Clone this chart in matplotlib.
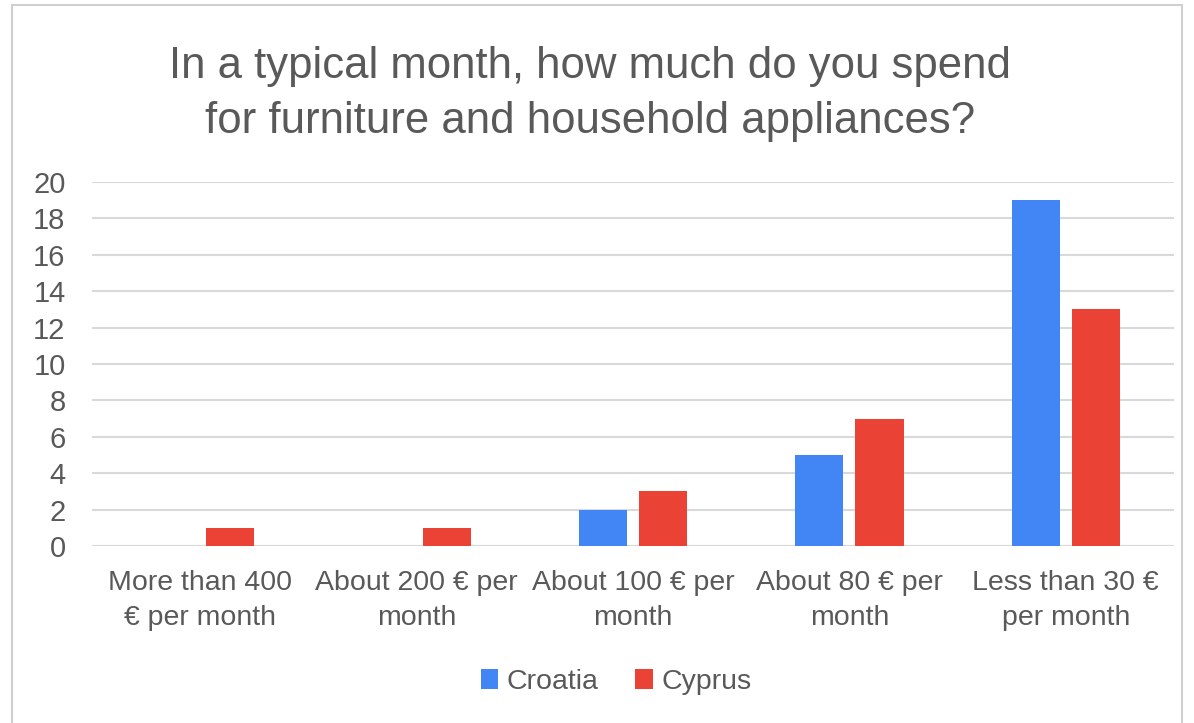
import numpy as np
import matplotlib.pyplot as plt
from matplotlib.patches import Rectangle

# Dados
categorias = ['More than 400\n€ per month', 'About 200 € per\nmonth', 'About 100 € per\nmonth',
              'About 80 € per\nmonth', 'Less than 30 €\nper month']
croatia = [0, 0, 2, 5, 19]
cyprus = [1, 1, 3, 7, 13]
series = ['Croatia', 'Cyprus']
cores = ['#4285F4', '#EA4335']
cinza = '#595959'

plt.rcParams['font.family'] = ['Liberation Sans', 'DejaVu Sans']

fig = plt.figure(figsize=(11.94, 7.23), dpi=100)
ax = fig.add_axes([92/1194, 1 - 546/723, (1174-92)/1194, (546-182)/723])

x = np.arange(len(categorias))
w = 0.222
off = 0.139
ax.bar(x - off, croatia, w, color=cores[0], label=series[0], zorder=3)
ax.bar(x + off, cyprus, w, color=cores[1], label=series[1], zorder=3)

ax.set_xlim(-0.5, len(categorias) - 0.5)
ax.set_ylim(0, 20)
ax.set_yticks(range(0, 21, 2))
ax.yaxis.grid(True, color='#D9D9D9', lw=1.5, zorder=0)
ax.set_xticks(x)
ax.set_xticklabels(categorias, fontsize=20.5, color=cinza, linespacing=1.45)
ax.tick_params(axis='y', labelsize=21, labelcolor=cinza, length=0, pad=19)
ax.tick_params(axis='x', length=0, pad=17)
for s in ax.spines.values():
    s.set_visible(False)
ax.axhline(0, color='#D9D9D9', lw=1.5, zorder=1)

fig.text(0.494, 1 - 94/723, 'In a typical month, how much do you spend\nfor furniture and household appliances?',
         ha='center', va='center', fontsize=31.5, color=cinza, linespacing=1.42)

fig.legend(loc='center', bbox_to_anchor=(0.516, 1 - 682/723), ncol=2, frameon=False,
           fontsize=20.5, labelcolor=cinza, handlelength=0.6, handleheight=0.7,
           handletextpad=0.3, columnspacing=1.3)

# moldura
fig.patches.append(Rectangle((12/1194, -0.01), (1182-12)/1194, 1 - 5/723 + 0.01,
                             transform=fig.transFigure, fill=False, ec='#D0D0D0', lw=1.5))

fig.savefig('out.png', dpi=100)
